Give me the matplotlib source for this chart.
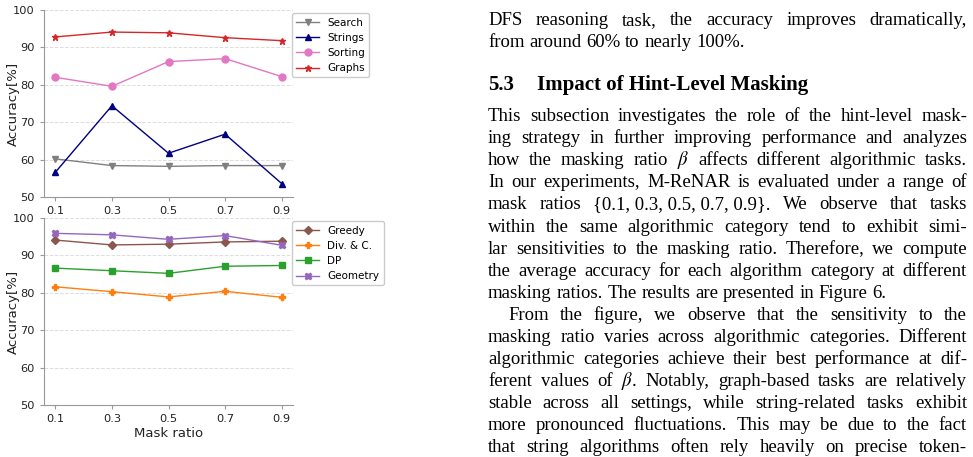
import matplotlib
matplotlib.use("Agg")
import matplotlib.pyplot as plt

# ---- data ----
mask_ratio = [0.1, 0.3, 0.5, 0.7, 0.9]

search = [60.2, 58.4, 58.2, 58.4, 58.4]
strings = [56.6, 74.4, 61.7, 66.8, 53.6]
sorting = [82.0, 79.6, 86.2, 87.0, 82.2]
graphs = [92.8, 94.1, 93.9, 92.6, 91.8]

greedy = [94.1, 92.8, 93.0, 93.6, 93.8]
divc = [81.6, 80.3, 78.9, 80.4, 78.8]
dp = [86.6, 85.9, 85.2, 87.1, 87.3]
geometry = [95.9, 95.5, 94.3, 95.3, 92.7]

y_ticks = [50, 60, 70, 80, 90, 100]

# text on the right column, one entry per printed line
top_lines = ["DFS reasoning task, the accuracy improves dramatically,",
             "from around 60% to nearly 100%."]
heading_num = "5.3"
heading_txt = "Impact of Hint-Level Masking"
body_lines = [
    "This subsection investigates the role of the hint-level mask-",
    "ing strategy in further improving performance and analyzes",
    r"how the masking ratio $\beta$ affects different algorithmic tasks.",
    "In our experiments, M-ReNAR is evaluated under a range of",
    "mask ratios {0.1,~0.3,~0.5,~0.7,~0.9}. We observe that tasks",
    "within the same algorithmic category tend to exhibit simi-",
    "lar sensitivities to the masking ratio. Therefore, we compute",
    "the average accuracy for each algorithm category at different",
    "masking ratios. The results are presented in Figure 6.",
    "From the figure, we observe that the sensitivity to the",
    "masking ratio varies across algorithmic categories. Different",
    "algorithmic categories achieve their best performance at dif-",
    r"ferent values of $\beta$. Notably, graph-based tasks are relatively",
    "stable across all settings, while string-related tasks exhibit",
    "more pronounced fluctuations. This may be due to the fact",
    "that string algorithms often rely heavily on precise token-",
]
last_of_par = {8}      # lines that are not stretched
indented = {9}

plt.rcParams['mathtext.fontset'] = 'stix'

W, H = 973, 457
fig = plt.figure(figsize=(W / 100, H / 100), dpi=100)


def px_box(l, t, r, b):
    return [l / W, 1 - b / H, (r - l) / W, (b - t) / H]


ax1 = fig.add_axes(px_box(44, 10, 293, 197))
ax2 = fig.add_axes(px_box(44, 218, 293, 405))

top_series = [(search, 'Search', 'gray', 'v', 4.5),
              (strings, 'Strings', 'navy', '^', 4.5),
              (sorting, 'Sorting', '#e377c2', 'o', 5),
              (graphs, 'Graphs', '#d62728', '*', 4.5)]
bot_series = [(greedy, 'Greedy', '#8c564b', 'D', 4.5),
              (divc, 'Div. & C.', '#ff7f0e', 'P', 5),
              (dp, 'DP', '#2ca02c', 's', 5),
              (geometry, 'Geometry', '#9467bd', 'X', 5)]

for ax, series in [(ax1, top_series), (ax2, bot_series)]:
    for vals, lab, col, mk, ms in series:
        ax.plot(mask_ratio, vals, color=col, marker=mk, ms=ms, lw=1.0, label=lab)
    ax.set_ylim(50, 100)
    ax.set_yticks(y_ticks)
    ax.set_xticks(mask_ratio)
    ax.set_xticklabels([str(v) for v in mask_ratio])
    ax.grid(axis='y', linestyle='--', color='#dddddd', linewidth=0.7)
    ax.set_axisbelow(True)
    for s in ['top', 'right']:
        ax.spines[s].set_visible(False)
    for s in ['left', 'bottom']:
        ax.spines[s].set_color('#999999')
    ax.tick_params(colors='#999999', labelcolor='#222222', labelsize=8.2, length=3)
    ax.set_ylabel('Accuracy[%]', fontsize=9.5, color='#222222')
    ax.yaxis.set_label_coords(-0.095, 0.5)
    ax.legend(loc='upper left', bbox_to_anchor=(0.996, 0.982), borderaxespad=0,
              fontsize=7.5, framealpha=1, edgecolor='#cccccc', handlelength=2.2)

ax2.set_xlabel('Mask ratio', fontsize=9.5, color='#222222', labelpad=2)

# ---- justified serif text on the right ----
serif = 'Liberation Serif'
fs = 13.5
left, right = 488, 967
renderer = fig.canvas.get_renderer()


def put_line(line, y, x0, justify):
    words = [w.replace('~', ' ') for w in line.split(' ')]
    texts = [fig.text(0, 0, w, family=serif, fontsize=fs, va='baseline') for w in words]
    widths = [t.get_window_extent(renderer).width for t in texts]
    if justify and len(words) > 1:
        gap = (right - x0 - sum(widths)) / (len(words) - 1)
    else:
        gap = fs * 100 / 72 * 0.25
    x = x0
    for t, w in zip(texts, widths):
        t.set_position((x / W, 1 - y / H))
        x += w + gap


put_line(top_lines[0], 25, left, True)
put_line(top_lines[1], 47, left, False)

fig.text(left / W, 1 - 90 / H, heading_num, family=serif, fontsize=15,
         weight='bold', va='baseline')
fig.text(537 / W, 1 - 90 / H, heading_txt, family=serif, fontsize=15,
         weight='bold', va='baseline')

for i, line in enumerate(body_lines):
    y = 121 + i * 22.1
    x0 = left + 20 if i in indented else left
    put_line(line, y, x0, i not in last_of_par)

fig.savefig('out.png', dpi=100)
